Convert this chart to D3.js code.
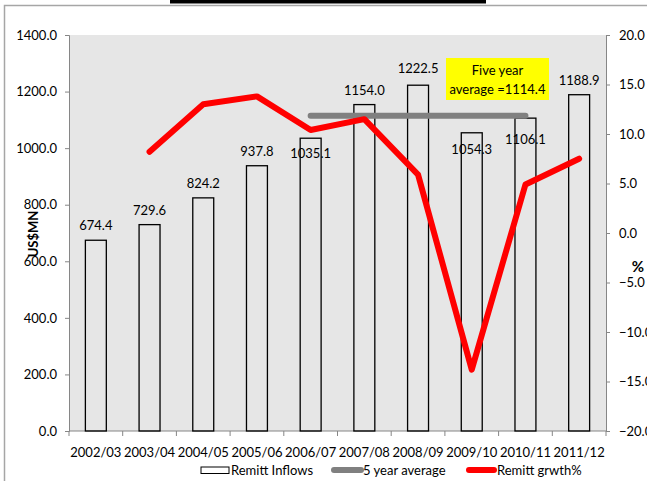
<!DOCTYPE html>
<html>
<head>
<meta charset="utf-8">
<script src="https://cdn.jsdelivr.net/npm/d3@7"></script>
<style>
  body { margin: 0; background: #fff; }
  text { font-family: Lato, "Open Sans", sans-serif; fill: #000; }
</style>
</head>
<body>
<div class="chart"></div>
<script>
// data
var years = ["2002/03","2003/04","2004/05","2005/06","2006/07","2007/08","2008/09","2009/10","2010/11","2011/12"];
var inflows = [674.4, 729.6, 824.2, 937.8, 1035.1, 1154.0, 1222.5, 1054.3, 1106.1, 1188.9];
var growth = [null, 8.2, 13.0, 13.8, 10.4, 11.5, 5.9, -13.8, 4.9, 7.5];
var avgValue = 1114.4;
var avgYears = ["2006/07", "2010/11"];
var leftTicks = [0, 200, 400, 600, 800, 1000, 1200, 1400];
var rightTicks = [-20, -15, -10, -5, 0, 5, 10, 15, 20];

// label nudges (some labels sit inside the bar in the original)
var labelDy = [-10, -10, -10, -10, 20, -10, -12, 21, 26, -10];

var width = 647, height = 481;
var plot = {left: 69, right: 606, top: 35, bottom: 431};
var fs = "13px";

var svg = d3.select(".chart").append("svg")
  .attr("width", width)
  .attr("height", height);

// outer frame + cut-off title bar
svg.append("rect")
  .attr("x", 4.5).attr("y", 5.5)
  .attr("width", 700).attr("height", 600)
  .attr("fill", "none")
  .attr("stroke", "#a6a6a6")
  .attr("stroke-width", 1.5);

svg.append("rect")
  .attr("x", 170).attr("y", 0)
  .attr("width", 316).attr("height", 3.5)
  .attr("fill", "#000");

var x = d3.scaleBand()
  .domain(years)
  .range([plot.left, plot.right])
  .paddingInner(0.61)
  .paddingOuter(0.305);

var y = d3.scaleLinear().domain([0, 1400]).range([plot.bottom, plot.top]);
var y2 = d3.scaleLinear().domain([-20, 20]).range([plot.bottom, plot.top]);

// plot background
svg.append("rect")
  .attr("x", plot.left).attr("y", plot.top)
  .attr("width", plot.right - plot.left)
  .attr("height", plot.bottom - plot.top)
  .attr("fill", "#e6e6e6");

// axes
var leftAxis = svg.append("g")
  .attr("transform", "translate(" + plot.left + ",0)")
  .call(d3.axisLeft(y).tickValues(leftTicks).tickFormat(d3.format(".1f")).tickSize(4).tickPadding(8));

var rightAxis = svg.append("g")
  .attr("transform", "translate(" + plot.right + ",0)")
  .call(d3.axisRight(y2).tickValues(rightTicks).tickFormat(d3.format(".1f")).tickSize(4).tickPadding(9));

var stepW = x.step();
var bottomAxis = svg.append("g")
  .attr("transform", "translate(0," + plot.bottom + ")");
bottomAxis.append("line")
  .attr("x1", plot.left).attr("x2", plot.right)
  .attr("y1", 0).attr("y2", 0);
bottomAxis.selectAll(".tk")
  .data(d3.range(years.length + 1))
  .enter()
  .append("line")
  .attr("class", "tk")
  .attr("x1", i => plot.left + i * stepW)
  .attr("x2", i => plot.left + i * stepW)
  .attr("y1", 0).attr("y2", 5);
bottomAxis.selectAll(".lbl")
  .data(years)
  .enter()
  .append("text")
  .attr("class", "lbl")
  .attr("x", d => x(d) + x.bandwidth() / 2)
  .attr("y", 26)
  .attr("text-anchor", "middle")
  .style("font-size", fs)
  .text(d => d);

[leftAxis, rightAxis].forEach(function(a) {
  a.select(".domain").attr("stroke", "#868686");
  a.selectAll(".tick line").attr("stroke", "#868686");
  a.selectAll(".tick text").style("font-size", fs).attr("fill", "#000");
  a.attr("font-family", null);
});
bottomAxis.selectAll("line").attr("stroke", "#868686");

// bars
svg.append("g")
  .selectAll("rect")
  .data(inflows)
  .enter()
  .append("rect")
  .attr("x", (d, i) => x(years[i]))
  .attr("y", d => y(d))
  .attr("width", x.bandwidth())
  .attr("height", d => y(0) - y(d))
  .attr("fill", "none")
  .attr("stroke", "#000")
  .attr("stroke-width", 1.3);

// bar labels
svg.append("g")
  .selectAll("text")
  .data(inflows)
  .enter()
  .append("text")
  .attr("x", (d, i) => x(years[i]) + x.bandwidth() / 2)
  .attr("y", (d, i) => y(d) + labelDy[i])
  .attr("text-anchor", "middle")
  .style("font-size", fs)
  .text(d => d3.format(".1f")(d));

// five year average
svg.append("line")
  .attr("x1", x(avgYears[0]) + x.bandwidth() / 2)
  .attr("x2", x(avgYears[1]) + x.bandwidth() / 2)
  .attr("y1", y(avgValue))
  .attr("y2", y(avgValue))
  .attr("stroke", "#808080")
  .attr("stroke-width", 6)
  .attr("stroke-linecap", "round");

// growth line
var line = d3.line()
  .defined(d => d != null)
  .x((d, i) => x(years[i]) + x.bandwidth() / 2)
  .y(d => y2(d));

svg.append("path")
  .datum(growth)
  .attr("d", line)
  .attr("fill", "none")
  .attr("stroke", "#ff0000")
  .attr("stroke-width", 6)
  .attr("stroke-linejoin", "round")
  .attr("stroke-linecap", "round");

// annotation box
var note = svg.append("g").attr("transform", "translate(446,58)");
note.append("rect")
  .attr("width", 103).attr("height", 42)
  .attr("fill", "#ffff00");
note.append("text")
  .attr("x", 51.5).attr("y", 17)
  .attr("text-anchor", "middle")
  .style("font-size", fs)
  .text("Five year");
note.append("text")
  .attr("x", 51.5).attr("y", 36)
  .attr("text-anchor", "middle")
  .style("font-size", fs)
  .text("average =" + d3.format(".1f")(avgValue));

// axis titles
svg.append("text")
  .attr("transform", "translate(38,234) rotate(-90)")
  .attr("text-anchor", "middle")
  .style("font-size", "13px")
  .style("font-weight", "bold")
  .text("US$MN");

svg.append("text")
  .attr("x", 638).attr("y", 272)
  .attr("text-anchor", "middle")
  .style("font-size", "15px")
  .style("font-weight", "bold")
  .text("%");

// legend
var legend = svg.append("g").attr("transform", "translate(0,475)");
legend.append("rect")
  .attr("x", 201).attr("y", -8)
  .attr("width", 28).attr("height", 6.5)
  .attr("fill", "#fff")
  .attr("stroke", "#000")
  .attr("stroke-width", 1);
legend.append("text").attr("x", 231).attr("y", 0).style("font-size", fs).text("Remitt Inflows");

legend.append("line")
  .attr("x1", 334).attr("x2", 361)
  .attr("y1", -5).attr("y2", -5)
  .attr("stroke", "#808080").attr("stroke-width", 6).attr("stroke-linecap", "round");
legend.append("text").attr("x", 363).attr("y", 0).style("font-size", fs).text("5 year average");

legend.append("line")
  .attr("x1", 469).attr("x2", 494)
  .attr("y1", -5).attr("y2", -5)
  .attr("stroke", "#ff0000").attr("stroke-width", 6).attr("stroke-linecap", "round");
legend.append("text").attr("x", 497).attr("y", 0).style("font-size", fs).text("Remitt grwth%");
</script>
</body>
</html>
